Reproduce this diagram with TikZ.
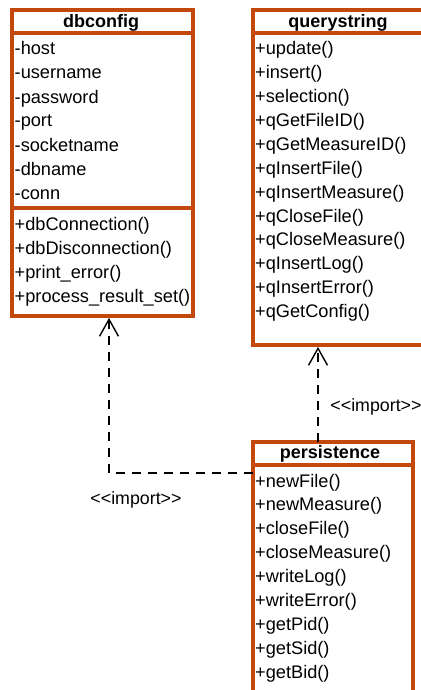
\documentclass[tikz,border=0pt]{standalone}
\usepackage{fontspec}
\setmainfont{Liberation Sans}
\usetikzlibrary{arrows.meta}
\definecolor{umlorange}{RGB}{194,72,12}
\begin{document}
\begin{tikzpicture}[x=1pt,y=-1pt,
  classbox/.style={draw=umlorange, line width=3.8pt, rectangle, inner sep=0pt,
    outer sep=0pt, anchor=north west},
  compart/.style={draw=umlorange, line width=3.8pt},
  member/.style={anchor=base west, inner sep=0pt, font=\fontsize{18.2}{20}\selectfont},
  classtitle/.style={anchor=base, inner sep=0pt, font=\fontsize{18}{20}\selectfont\bfseries},
  lbl/.style={anchor=base, inner sep=0pt, font=\fontsize{17.8}{20}\selectfont},
  dep/.style={dash pattern=on 9pt off 7pt, line width=1.4pt, shorten >=1.9pt,
    -{Straight Barb[length=17pt,width=19pt,line width=1.4pt]}}]
\useasboundingbox (0,0) rectangle (420,690);

% class boxes
\node[classbox, minimum width=181pt, minimum height=306pt] (dbconfig) at (12,10) {};
\node[classbox, minimum width=187pt, minimum height=335pt] (querystring) at (253,10) {};
\node[classbox, minimum width=160pt, minimum height=260pt] (persistence) at (253,442) {};

% compartment separators
\draw[compart] (12,33) -- (193,33);
\draw[compart] (12,208) -- (193,208);
\draw[compart] (253,33) -- (440,33);
\draw[compart] (253,465) -- (413,465);

% titles
\node[classtitle] (tdb) at (101,28) {dbconfig};
\node[classtitle] (tqs) at (338,28) {querystring};
\node[classtitle] (tps) at (330,458) {persistence};

% dbconfig members
\foreach \t [count=\i from 0] in {-host,-username,-password,-port,-socketname,-dbname,-conn}
  \node[member] (dba\i) at (14.5,55+24*\i) {\t};
\foreach \t [count=\i from 0] in {+dbConnection(),+dbDisconnection(),+print\_error(),+process\_result\_set()}
  \node[member] (dbm\i) at (14.5,230+24*\i) {\t};

% querystring members
\foreach \t [count=\i from 0] in {+update(),+insert(),+selection(),+qGetFileID(),+qGetMeasureID(),+qInsertFile(),+qInsertMeasure(),+qCloseFile(),+qCloseMeasure(),+qInsertLog(),+qInsertError(),+qGetConfig()}
  \node[member] (qsm\i) at (255,55+23.86*\i) {\t};

% persistence members
\foreach \t [count=\i from 0] in {+newFile(),+newMeasure(),+closeFile(),+closeMeasure(),+writeLog(),+writeError(),+getPid(),+getSid(),+getBid()}
  \node[member] (psm\i) at (255,487+23.9*\i) {\t};

% import dependencies
\coordinate (bend) at (109,473);
\coordinate (qsx) at (318,0);
\draw[dep] (persistence.west |- bend) -- (bend) -- (bend |- dbconfig.south);
\draw[dep] (qsx |- persistence.north) -- (qsx |- querystring.south);

\node[lbl] (imp1) at (376,411) {{<}{<}import{>}{>}};
\node[lbl] (imp2) at (136,504) {{<}{<}import{>}{>}};
\end{tikzpicture}
\end{document}
